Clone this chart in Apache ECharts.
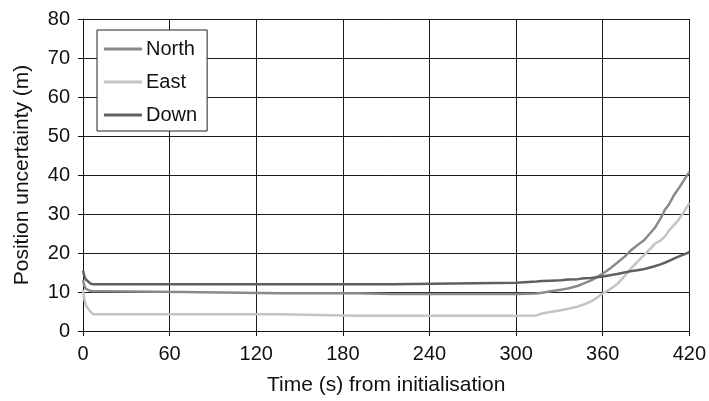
<!DOCTYPE html>
<html><head><meta charset="utf-8">
<script src="https://cdn.jsdelivr.net/npm/echarts@6/dist/echarts.min.js"></script>
<style>html,body{margin:0;padding:0;background:#fff}#c{width:709px;height:401px}</style>
</head><body><div id="c"></div>
<script>
const times = [0,1,2,3,5,7,10,16,17,69,70,136,137,190,191,214,215,300,314,318,324,331,336,343,347,352,356,360,365,370,375,377,379,384,389,396,400,403,406,409,412,416,420];
const north = [13,11.5,10.8,10.5,10.3,10.2,10.2,10.2,10.0,10.0,9.7,9.7,9.7,9.7,9.5,9.5,9.5,9.5,9.6,9.8,10.2,10.6,10.9,11.6,12.2,13.0,13.8,14.7,16.0,17.5,19.0,19.7,20.5,22.0,23.4,26.4,28.8,31.0,32.5,34.6,36.2,38.5,40.8];
const east = [10.5,8.0,6.6,6.0,5.0,4.3,4.3,4.3,4.3,4.3,4.3,4.3,3.9,3.9,3.9,3.9,3.9,3.9,4.0,4.5,4.9,5.3,5.7,6.3,6.8,7.6,8.5,9.6,10.7,12.0,14.0,15.0,15.8,17.7,19.6,22.3,23.2,24.2,25.8,27.0,28.2,30.4,32.8];
const down = [15.5,14.0,13.2,12.7,12.2,12.0,12.0,12.0,12.0,12.0,12.0,12.0,12.0,12.0,12.0,12.0,12.4,12.4,12.7,12.8,12.9,13.0,13.2,13.3,13.5,13.6,13.8,14.0,14.3,14.6,15.0,15.1,15.3,15.6,15.9,16.6,17.1,17.5,18.0,18.5,19.0,19.6,20.2];
const seriesNames = ['North','East','Down'];
const xTicks = [0,60,120,180,240,300,360,420];
const yTicks = [0,10,20,30,40,50,60,70,80];

const colors = ['#8a8a8a','#c4c4c4','#606060'];
const font = 'Liberation Sans, Arial, sans-serif';
const pair = v => times.map((t,i)=>[t,v[i]]);
const chart = echarts.init(document.getElementById('c'));
const axisCommon = {
  axisLine:{show:true,lineStyle:{color:'#111',width:1}},
  axisTick:{show:true,inside:false,length:5,lineStyle:{color:'#111',width:1}},
  splitLine:{show:true,lineStyle:{color:'#1a1a1a',width:1}},
  axisLabel:{color:'#111',fontSize:20,fontFamily:font,margin:13},
  nameTextStyle:{color:'#111',fontSize:21,fontFamily:font}
};
chart.setOption({
  animation:false,
  backgroundColor:'#fff',
  grid:{left:83,right:16,top:19,bottom:67},
  legend:{
    orient:'vertical',left:97,top:30,
    data:seriesNames,
    icon:'rect',itemWidth:38,itemHeight:3,itemGap:13,
    padding:[9,10,6,7],
    borderColor:'#222',borderWidth:1,backgroundColor:'#fff',
    textStyle:{color:'#111',fontSize:20,fontFamily:font,padding:[0,0,0,-1]}
  },
  xAxis:Object.assign({type:'value',min:xTicks[0],max:xTicks[xTicks.length-1],interval:60,
    name:'Time (s) from initialisation',nameLocation:'middle',nameGap:44},axisCommon),
  yAxis:Object.assign({type:'value',min:yTicks[0],max:yTicks[yTicks.length-1],interval:10,
    name:'Position uncertainty (m)',nameLocation:'middle',nameGap:50},axisCommon),
  series:[north,east,down].map((v,i)=>({
    name:seriesNames[i],type:'line',data:pair(v),showSymbol:false,
    lineStyle:{color:colors[i],width:2.5},itemStyle:{color:colors[i]},z:3
  }))
});
</script></body></html>
